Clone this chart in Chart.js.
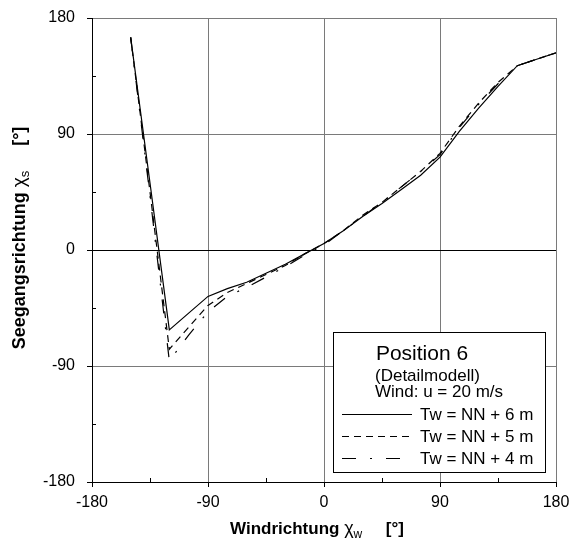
<!DOCTYPE html>
<html>
<head>
<meta charset="utf-8">
<script src="https://cdn.jsdelivr.net/npm/chart.js@4.4.1/dist/chart.umd.min.js"></script>
<style>
  body { margin: 0; background: #fff; }
  #wrap { width: 570px; height: 540px; }
</style>
</head>
<body>
<div id="wrap"><canvas id="seegangChart" width="570" height="540"></canvas></div>
<script>
// Windrichtung (x) in Grad
const windDir = [-150, -135, -120, -105, -90, -75, -60, -45, -30, -15, 0, 15, 30, 45, 60, 75, 90, 105, 120, 135, 150, 165, 180];
// Seegangsrichtung (y) je Wasserstand
const tw6 = [165, 52, -62, -49, -36, -30, -25, -18, -11, -3, 5, 15, 26, 36, 47, 58, 72, 92, 110, 127, 143, 148, 153];
const tw5 = [165, 45, -77, -60, -43, -33, -26, -19, -12, -3, 5, 15, 27, 37, 49, 61, 75, 96, 114, 130, 143, 148, 153];
const tw4 = [165, 42, -86, -66, -48, -36, -29, -21, -13, -4, 4, 15, 26, 37, 49, 61, 74, 95, 113, 129, 143, 148, 153];
const seriesLabels = ['Tw = NN + 6 m', 'Tw = NN + 5 m', 'Tw = NN + 4 m'];
const axisTicks = [-180, -90, 0, 90, 180];
const minorTicks = [-135, -45, 45, 135];

const FONT = 'Arial, "Liberation Sans", sans-serif';
const dashes = [[], [7, 5], [14, 14, 2, 14]];

function toPoints(ys) {
    return windDir.map((x, i) => ({ x: x, y: ys[i] }));
}

// Achsentitel mit griechischem Zeichen und Index
const axisTitles = {
    id: 'axisTitles',
    afterDraw(chart) {
        const ctx = chart.ctx;
        function drawTitle(main, sym, sub, size) {
            const parts = [
                { t: main + ' ', f: 'bold ' + size + 'px ' + FONT, dy: 0 },
                { t: sym, f: (size + 1) + 'px ' + FONT, dy: 0 },
                { t: sub, f: Math.round(size * 0.7) + 'px ' + FONT, dy: 4 },
                { t: '     [°]', f: 'bold ' + size + 'px ' + FONT, dy: 0 }
            ];
            let total = 0;
            parts.forEach(p => { ctx.font = p.f; p.w = ctx.measureText(p.t).width; total += p.w; });
            let x = -total / 2;
            parts.forEach(p => {
                ctx.font = p.f;
                ctx.fillText(p.t, x, p.dy);
                x += p.w;
            });
        }
        ctx.save();
        ctx.fillStyle = '#000';
        ctx.textAlign = 'left';
        ctx.textBaseline = 'alphabetic';
        ctx.translate(317, 534);
        drawTitle('Windrichtung', 'χ', 'w', 17);
        ctx.restore();

        ctx.save();
        ctx.fillStyle = '#000';
        ctx.textAlign = 'left';
        ctx.textBaseline = 'alphabetic';
        ctx.translate(25, 238);
        ctx.rotate(-Math.PI / 2);
        drawTitle('Seegangsrichtung', 'χ', 's', 18);
        ctx.restore();
    }
};

// Zwischenstriche nach innen
const minorTickMarks = {
    id: 'minorTickMarks',
    afterDraw(chart) {
        const ctx = chart.ctx;
        const xs = chart.scales.x, ys = chart.scales.y;
        ctx.save();
        ctx.strokeStyle = '#000';
        ctx.lineWidth = 1;
        ctx.beginPath();
        minorTicks.forEach(v => {
            const px = Math.round(xs.getPixelForValue(v)) + 0.5;
            ctx.moveTo(px, ys.bottom);
            ctx.lineTo(px, ys.bottom - 4);
            const py = Math.round(ys.getPixelForValue(v)) + 0.5;
            ctx.moveTo(xs.left, py);
            ctx.lineTo(xs.left + 4, py);
        });
        ctx.stroke();
        ctx.restore();
    }
};

// Legendenkasten mit Überschrift
const boxLegend = {
    id: 'boxLegend',
    afterDraw(chart) {
        const ctx = chart.ctx;
        ctx.save();
        ctx.fillStyle = '#fff';
        ctx.fillRect(333.5, 332.5, 212, 140);
        ctx.strokeStyle = '#000';
        ctx.lineWidth = 1;
        ctx.strokeRect(333.5, 332.5, 212, 140);

        ctx.fillStyle = '#000';
        ctx.textBaseline = 'alphabetic';
        ctx.textAlign = 'center';
        ctx.font = '21px ' + FONT;
        ctx.fillText('Position 6', 422, 360);
        ctx.textAlign = 'left';
        ctx.font = '17px ' + FONT;
        ctx.fillText('(Detailmodell)', 375, 381);
        ctx.fillText('Wind: u = 20 m/s', 375, 397);

        chart.data.datasets.forEach((ds, i) => {
            const y = 414.5 + i * 22;
            ctx.beginPath();
            ctx.setLineDash(ds.borderDash || []);
            ctx.lineWidth = 1;
            ctx.moveTo(342, y);
            ctx.lineTo(412, y);
            ctx.stroke();
            ctx.setLineDash([]);
            ctx.fillText(ds.label, 420, y + 5);
        });
        ctx.restore();
    }
};

const ctx = document.getElementById('seegangChart').getContext('2d');
new Chart(ctx, {
    type: 'line',
    data: {
        datasets: [tw6, tw5, tw4].map((ys, i) => ({
            label: seriesLabels[i],
            data: toPoints(ys),
            borderColor: '#000',
            borderWidth: 1.2,
            borderDash: dashes[i],
            pointRadius: 0,
            fill: false,
            tension: 0
        }))
    },
    options: {
        responsive: false,
        animation: false,
        layout: { padding: { top: 18, right: 14, left: 0, bottom: 0 } },
        scales: {
            x: {
                type: 'linear',
                min: -180,
                max: 180,
                afterFit(scale) {
                    scale.height = 58;
                    scale.paddingLeft = 0;
                    scale.paddingRight = 0;
                },
                afterBuildTicks(scale) { scale.ticks = axisTicks.map(v => ({ value: v })); },
                ticks: { color: '#000', font: { family: FONT, size: 16 }, padding: 6, maxRotation: 0 },
                grid: {
                    color: '#7a7a7a',
                    lineWidth: 1,
                    tickLength: 5,
                    tickColor: '#000'
                },
                border: { color: '#000', width: 1 }
            },
            y: {
                min: -180,
                max: 180,
                afterFit(scale) {
                    scale.width = 92;
                    scale.paddingTop = 0;
                    scale.paddingBottom = 0;
                },
                afterBuildTicks(scale) { scale.ticks = axisTicks.map(v => ({ value: v })); },
                ticks: { color: '#000', font: { family: FONT, size: 16 }, padding: 12 },
                grid: {
                    color: c => (c.tick && c.tick.value === 0 ? '#000' : '#7a7a7a'),
                    lineWidth: 1,
                    tickLength: 5,
                    tickColor: '#000'
                },
                border: { color: '#000', width: 1 }
            }
        },
        plugins: {
            legend: { display: false },
            tooltip: { enabled: false }
        }
    },
    plugins: [axisTitles, minorTickMarks, boxLegend]
});
</script>
</body>
</html>
